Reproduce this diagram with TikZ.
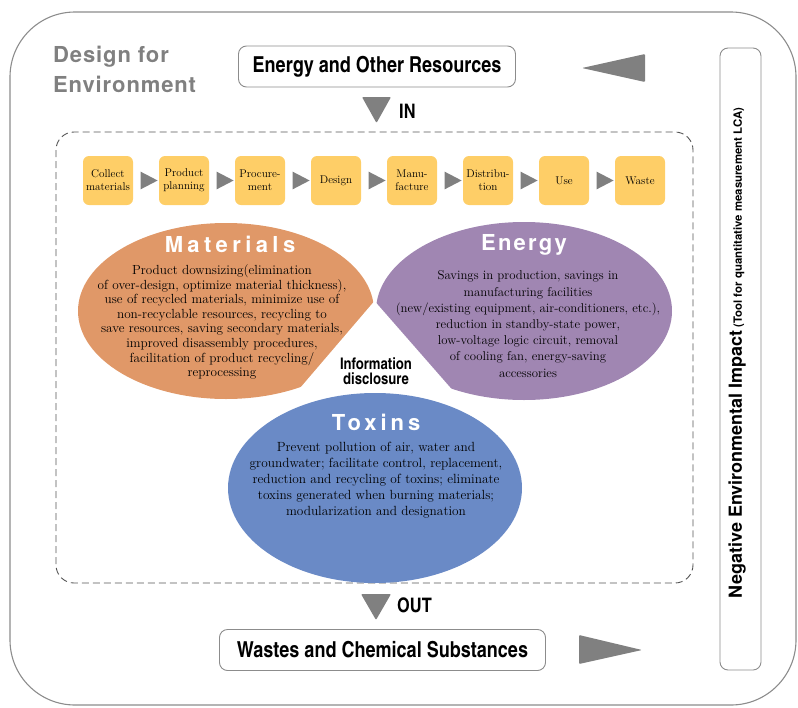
\documentclass[tikz,border=0pt]{standalone}
\usepackage{fontspec}
\usepackage{tikz}
\usetikzlibrary{arrows,shapes,positioning}
\usepackage{xcolor}
\newfontfamily\condfont{texgyreheroscn-bold.otf}
\newfontfamily\headfont[LetterSpace=4]{texgyreheros-bold.otf}
\newfontfamily\titlefont[LetterSpace=15]{texgyreheros-bold.otf}
\newfontfamily\sidefont{texgyreheros-bold.otf}
\definecolor{dfegray}{RGB}{128,128,128}
\definecolor{dfeline}{RGB}{140,140,140}
\definecolor{dfedash}{RGB}{85,85,85}
\definecolor{dfeyellow}{RGB}{254,206,103}
\definecolor{dfeorange}{RGB}{224,152,104}
\definecolor{dfepurple}{RGB}{160,134,178}
\definecolor{dfeblue}{RGB}{106,138,198}
\tikzstyle{stage} = [rectangle, rounded corners=6pt, minimum width=50pt, minimum height=49pt, inner sep=1pt, align=center, fill=dfeyellow, font=\fontsize{11.2}{13}\selectfont]
\tikzstyle{flow} = [isosceles triangle, isosceles triangle apex angle=55, fill=dfegray, inner sep=0pt, minimum height=17pt]
\tikzstyle{resource} = [rectangle, rounded corners=8pt, draw=dfeline, line width=0.9pt, minimum height=41pt, font=\condfont\fontsize{22}{22}\selectfont]
\tikzstyle{area} = [ellipse, inner sep=0pt, minimum width=296pt]
\tikzstyle{heading} = [text=white, font=\titlefont\fontsize{22}{22}\selectfont]
\tikzstyle{body} = [align=center, inner sep=0pt]

\begin{document}
\begin{tikzpicture}[x=1pt, y=-1pt, node distance=76pt]
\useasboundingbox (0,0) rectangle (798,707);
\draw[dfeline, line width=1.1pt, rounded corners=65pt] (10,12) rectangle (796,705);
\node (dfe) [anchor=north west, align=left, text=dfegray, inner sep=0pt, font=\headfont\fontsize{22}{30}\selectfont] at (53,46) {Design for\\Environment};

\node (resources) [resource, minimum width=277pt] at (377,66.5) {Energy and Other Resources};
\fill[dfegray, rounded corners=1pt] (582,68) -- (645,54) -- (645,82) -- cycle;
\fill[dfegray, rounded corners=1pt] (362,97) -- (391,97) -- (376.5,123) -- cycle;
\node (in) [anchor=west, inner sep=0pt, font=\condfont\fontsize{20}{20}\selectfont] at (399,111.5) {IN};

\draw[dfedash, line width=0.9pt, dash pattern=on 7pt off 4pt, rounded corners=18pt] (56,132) rectangle (693,583);

\node (collect) [stage] at (108,180.5) {Collect\\materials};
\node (planning) [stage, right of=collect] {Product\\planning};
\node (procure) [stage, right of=planning] {Procure-\\ment};
\node (design) [stage, right of=procure] {Design};
\node (manufacture) [stage, right of=design] {Manu-\\facture};
\node (distribution) [stage, right of=manufacture] {Distribu-\\tion};
\node (use) [stage, right of=distribution] {Use};
\node (waste) [stage, right of=use] {Waste};
\foreach \a/\b in {collect/planning, planning/procure, procure/design, design/manufacture, manufacture/distribution, distribution/use, use/waste}
  \path (\a) -- node[flow] {} (\b);

\node (materials) [area, fill=dfeorange, minimum height=176pt] at (226,311) {};
\node (energy) [area, fill=dfepurple, minimum height=178pt] at (524,311) {};
\fill[white] (374.5,301) -- (289,401) -- (462,401) -- cycle;
\node (toxins) [area, fill=dfeblue, minimum width=294pt, minimum height=190pt] at (375,488) {};

\node (mattitle) [heading] at (230,244) {\addfontfeature{LetterSpace=20}Materials};
\node (mattext) [body, font=\fontsize{13.2}{14.6}\selectfont] at (222,322) {Product downsizing(elimination\\of over-design, optimize material thickness),\\use of recycled materials, minimize use of\\non-recyclable resources, recycling to\\save resources, saving secondary materials,\\improved disassembly procedures,\\facilitation of product recycling/\\reprocessing};
\node (entitle) [heading] at (524,245) {\addfontfeature{LetterSpace=10}Energy};
\node (entext) [body, font=\fontsize{12.8}{16.2}\selectfont] at (528,324) {Savings in production, savings in\\manufacturing facilities\\(new/existing equipment, air-conditioners, etc.),\\reduction in standby-state power,\\low-voltage logic circuit, removal\\of cooling fan, energy-saving\\accessories};
\node (toxtitle) [heading] at (376,422) {\addfontfeature{LetterSpace=18}Toxins};
\node (toxtext) [body, font=\fontsize{13.3}{16}\selectfont] at (376,480) {Prevent pollution of air, water and\\groundwater; facilitate control, replacement,\\reduction and recycling of toxins; eliminate\\toxins generated when burning materials;\\modularization and designation};
\node (info) [align=center, inner sep=0pt, font=\condfont\fontsize{16}{15}\selectfont] at (376,371) {Information\\disclosure};

\fill[dfegray, rounded corners=1pt] (361,594) -- (391,594) -- (376,620) -- cycle;
\node (out) [anchor=west, inner sep=0pt, font=\condfont\fontsize{20}{20}\selectfont] at (397,605.5) {OUT};
\node (wastes) [resource, minimum width=326pt] at (382.5,650) {Wastes and Chemical Substances};
\fill[dfegray, rounded corners=1pt] (579,635) -- (642,650) -- (579,664) -- cycle;

\node (impactbox) [draw=dfeline, line width=0.9pt, rounded corners=8pt, minimum width=41pt, minimum height=622pt] at (740.5,359) {};
\node (impact) [rotate=90, inner sep=0pt, font=\sidefont] at (737,353) {{\fontsize{18}{18}\selectfont Negative Environmental Impact} {\fontsize{11.4}{12}\selectfont(Tool for quantitative measurement LCA)}};
\end{tikzpicture}
\end{document}
